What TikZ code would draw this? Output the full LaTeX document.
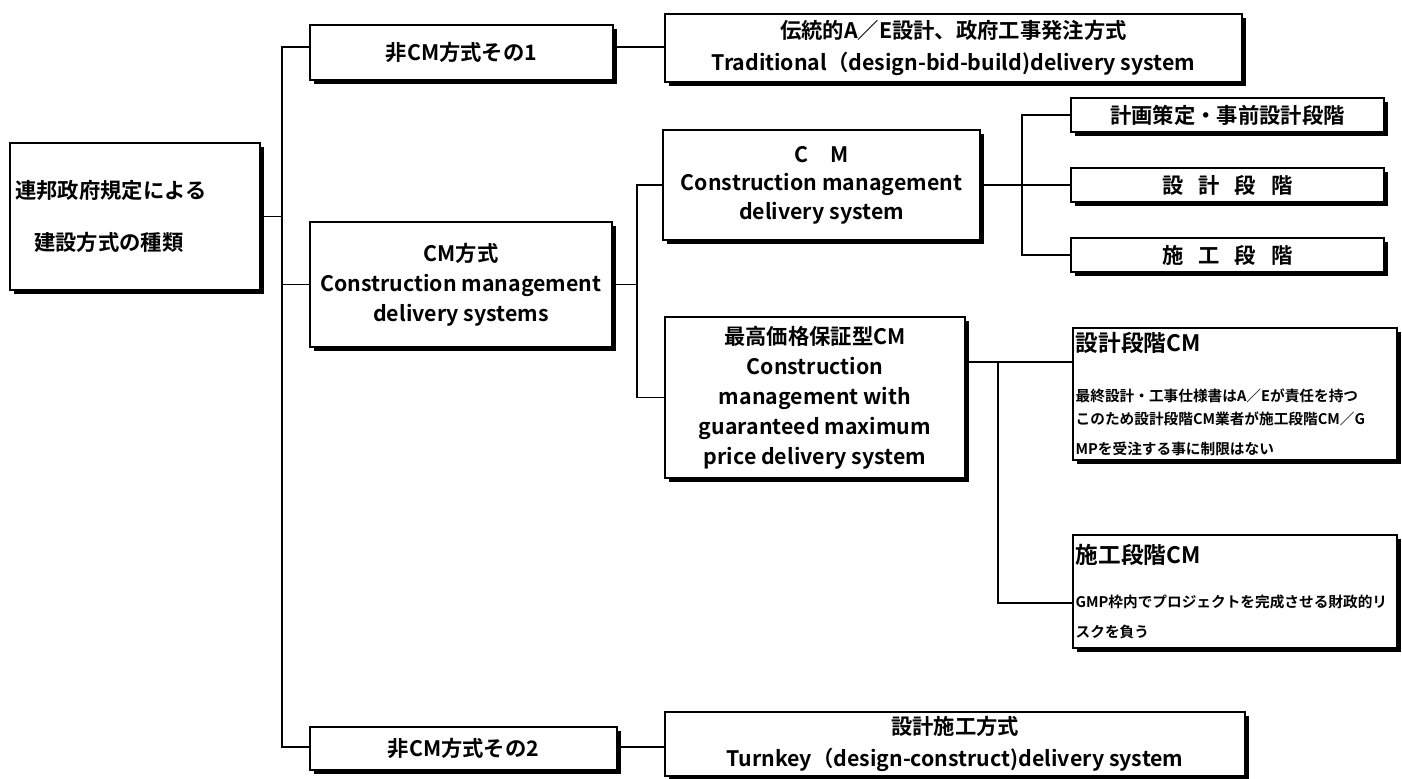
\documentclass[tikz,border=0pt]{standalone}
\usepackage{fontspec}
\setmainfont{Noto Sans CJK JP}[BoldFont={Noto Sans CJK JP Bold}]
\usetikzlibrary{shadows}

\newcommand{\bigf}{\bfseries\fontsize{16}{22.5}\selectfont}
\newcommand{\smallf}{\fontsize{11}{17.3}\selectfont}

\tikzset{
  box/.style={draw, fill=white, line width=1.3pt, align=center, inner sep=2pt,
    drop shadow={shadow xshift=3pt, shadow yshift=-3pt, opacity=1, fill=black},
    font=\bigf},
  sz/.style 2 args={minimum width=#1*0.75pt, minimum height=#2*0.75pt},
  link/.style={line width=1.2pt},
}

\begin{document}
\begin{tikzpicture}[x=0.75pt, y=-0.75pt]
    \useasboundingbox (0,0) rectangle (1402,778);

    % Root
    \node[box, sz={250}{147}, text width=180pt, inner xsep=3.75pt, align=left] (root) at (135,216.5)
        {連邦政府規定による\\[16pt]\hspace{0.9em}建設方式の種類};

    % Second column
    \node[box, sz={303}{55}] (non1) at (461.5,52.5) {非CM方式その1};
    \node[box, sz={302}{125}] (cm) at (461,284.5)
        {CM方式\\Construction management\\delivery systems};
    \node[box, sz={307}{43}] (non2) at (463.5,748.5) {非CM方式その2};

    % Third column
    \node[box, sz={577}{68}, font=\bfseries\fontsize{16}{24}\selectfont] (trad) at (953.5,48)
        {伝統的A／E設計、政府工事発注方式\\Traditional（design-bid-build)delivery system};
    \node[box, sz={317}{110}, font=\bfseries\fontsize{16}{21.4}\selectfont] (cmd) at (821.5,185)
        {C　M\\Construction management\\delivery system};
    \node[box, sz={300}{161}] (gmp) at (815,397.5)
        {最高価格保証型CM\\Construction\\management with\\guaranteed maximum\\price delivery system};
    \node[box, sz={580}{64}, font=\bfseries\fontsize{16}{24}\selectfont] (turnkey) at (955,744)
        {設計施工方式\\Turnkey（design-construct)delivery system};

    % Phases of CM
    \node[box, sz={313}{34}] (plan) at (1227.5,115) {計画策定・事前設計段階};
    \node[box, sz={313}{34}] (dsn) at (1227.5,185)
        {設\hspace{0.7em}計\hspace{0.7em}段\hspace{0.7em}階};
    \node[box, sz={313}{34}] (con) at (1227.5,255)
        {施\hspace{0.7em}工\hspace{0.7em}段\hspace{0.7em}階};

    % CM/GMP variants
    \node[box, sz={324}{132}, text width=239pt, inner xsep=2pt, align=left] (dcm) at (1235,394)
        {{\fontsize{17}{20}\selectfont 設計段階CM}\\[20pt]\smallf
         最終設計・工事仕様書はA／Eが責任を持つ\\
         このため設計段階CM業者が施工段階CM／G\\
         MPを受注する事に制限はない};
    \node[box, sz={324}{113}, text width=239pt, inner xsep=2pt, align=left] (ccm) at (1235,591.5)
        {{\fontsize{17}{20}\selectfont 施工段階CM}\\[16pt]\smallf
         GMP枠内でプロジェクトを完成させる財政的リ\\
         スクを負う};

    % Junctions
    \coordinate (jtop) at (282,47);
    \coordinate (jbot) at (282,747);
    \coordinate (jm) at (637,285);
    \coordinate (jr) at (1022,185);
    \coordinate (jg) at (998,362);
    \coordinate (jc) at (998,603);

    % Connectors
    \draw[link] (jtop -| non1.west) -- (jtop) -- (jbot) -- (jbot -| non2.west);
    \draw[link] (root.east) -- (root.east -| jtop);
    \draw[link] (cm.west) -- (cm.west -| jtop);
    \draw[link] (jtop -| non1.east) -- (jtop -| trad.west);
    \draw[link] (jbot -| non2.east) -- (jbot -| turnkey.west);
    \draw[link] (cm.east) -- (cm.east -| jm);
    \draw[link] (cmd.west) -| (jm) |- (gmp.west);
    \draw[link] (cmd.east) -- (dsn.west);
    \draw[link] (plan.west) -| (jr) |- (con.west);
    \draw[link] (jg -| gmp.east) -- (jg -| dcm.west);
    \draw[link] (jg) -- (jc) -- (jc -| ccm.west);
\end{tikzpicture}
\end{document}
